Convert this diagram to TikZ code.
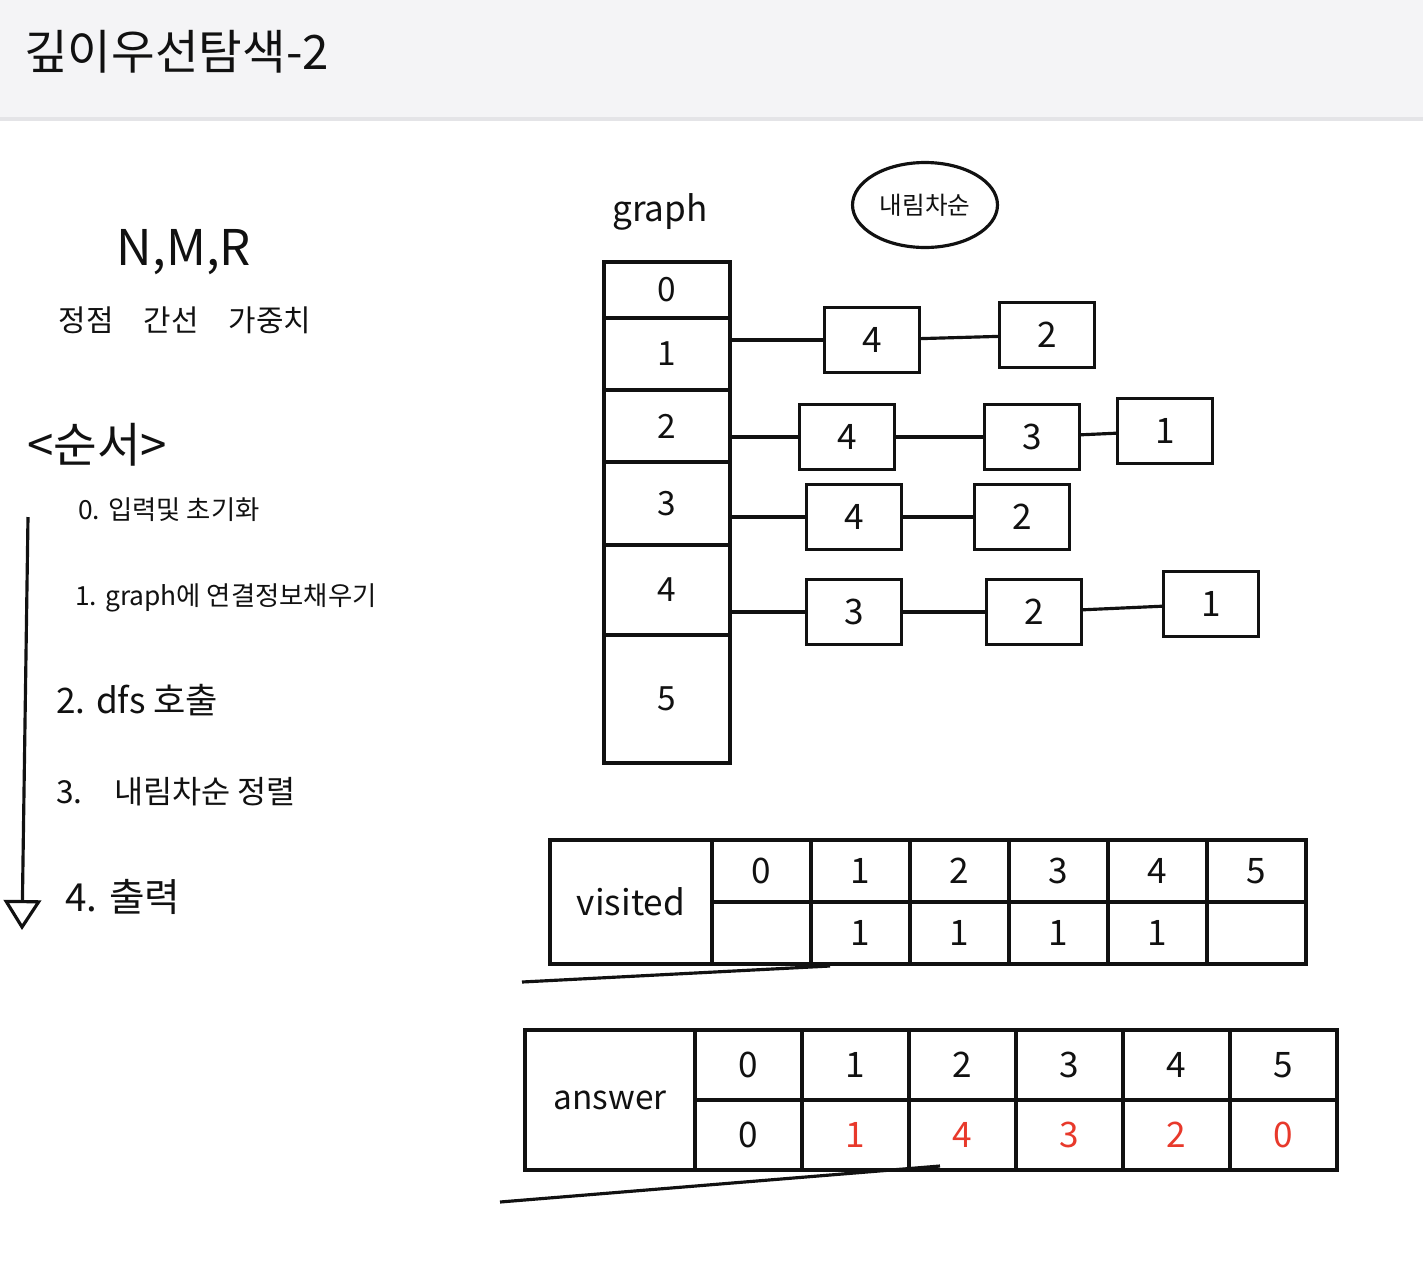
\documentclass[tikz,border=0pt]{standalone}
\usepackage{fontspec}
\setmainfont{Noto Sans CJK KR}
\usetikzlibrary{positioning, arrows.meta, shapes.geometric}
\definecolor{bar}{HTML}{F4F4F6}
\definecolor{barline}{HTML}{E4E4E7}
\definecolor{ink}{HTML}{111111}
\definecolor{redpen}{HTML}{E8392B}

\begin{document}
\begin{tikzpicture}[x=0.02cm, y=-0.02cm, line width=1.8pt, ink,
    every node/.style={text=ink, inner sep=1pt},
    gcell/.style={draw, outer sep=0pt, minimum width=2.52cm, font=\fontsize{19}{22}\selectfont},
    lbox/.style={draw, minimum width=1.9cm, minimum height=1.3cm, font=\fontsize{20}{24}\selectfont},
    vcell/.style={draw, outer sep=0pt, minimum width=1.98cm, minimum height=1.24cm, font=\fontsize{20}{24}\selectfont},
    acell/.style={draw, outer sep=0pt, minimum width=2.14cm, minimum height=1.4cm, font=\fontsize{20}{24}\selectfont},
    stepitem/.style={anchor=west, font=\fontsize{18}{22}\selectfont}]
    % 배경과 제목
    \useasboundingbox (0,0) rectangle (1423,1282);
    \fill[white] (0,0) rectangle (1423,1282);
    \fill[bar] (0,0) rectangle (1423,120);
    \draw[barline, line width=2pt] (0,119) -- (1423,119);
    \node[anchor=west, font=\fontsize{27}{32}\selectfont] (title) at (21,52) {깊이우선탐색-2};

    % 왼쪽: 입력과 순서
    \node[font=\fontsize{28}{32}\selectfont] (nmr) at (184,252) {N,M,R};
    \node[font=\fontsize{17}{20}\selectfont] (names) at (185,320) {정점\quad 간선\quad 가중치};
    \node[anchor=west, font=\fontsize{27}{31}\selectfont] (order) at (24,445) {<순서>};
    \node[stepitem, font=\fontsize{15}{18}\selectfont] (s0) at (75,510) {0. 입력및 초기화};
    \node[stepitem, font=\fontsize{15}{18}\selectfont] (s1) at (72,598) {1. graph에 연결정보채우기};
    \node[stepitem, font=\fontsize{20}{24}\selectfont] (s2) at (53,700) {2. dfs 호출};
    \node[stepitem] (s3) at (53,792) {3.\quad 내림차순 정렬};
    \node[stepitem, font=\fontsize{22}{26}\selectfont] (s4) at (62,897) {4. 출력};
    \coordinate (top) at (28,517);
    \coordinate (bot) at (22,930);
    \draw[-{Triangle[open, length=0.6cm, width=0.75cm]}] (top) -- (bot);

    % graph 배열
    \node[font=\fontsize{20}{24}\selectfont] (glabel) at (660,212) {graph};
    \node[gcell, minimum height=1.12cm] (g0) at (667,290) {0};
    \node[gcell, minimum height=1.44cm, below=0pt of g0] (g1) {1};
    \node[gcell, minimum height=1.44cm, below=0pt of g1] (g2) {2};
    \node[gcell, minimum height=1.66cm, below=0pt of g2] (g3) {3};
    \node[gcell, minimum height=1.8cm, below=0pt of g3] (g4) {4};
    \node[gcell, minimum height=2.56cm, below=0pt of g4] (g5) {5};
    \node[draw, ellipse, inner sep=0pt, minimum width=2.9cm, minimum height=1.7cm,
          font=\fontsize{14}{17}\selectfont] (desc) at (925,205) {내림차순};

    % 연결 리스트
    \node[lbox] (1a) at (872,340) {4};
    \node[lbox] (1b) at (1047,335) {2};
    \node[lbox] (2a) at (847,437) {4};
    \node[lbox] (2b) at (1032,437) {3};
    \node[lbox] (2c) at (1165,431) {1};
    \node[lbox] (3a) at (854,517) {4};
    \node[lbox] (3b) at (1022,517) {2};
    \node[lbox] (4a) at (854,612) {3};
    \node[lbox] (4b) at (1034,612) {2};
    \node[lbox] (4c) at (1211,604) {1};
    \draw (g1.east |- 1a) -- (1a);
    \draw (1a) -- (1b);
    \draw (g2.east |- 2a) -- (2a);
    \draw (2a) -- (2b);
    \draw (2b) -- (2c);
    \draw (g3.east |- 3a) -- (3a);
    \draw (3a) -- (3b);
    \draw (g4.east |- 4a) -- (4a);
    \draw (4a) -- (4b);
    \draw (4b) -- (4c);

    % visited
    \node[draw, outer sep=0pt, minimum width=3.24cm, minimum height=2.48cm,
          font=\fontsize{20}{24}\selectfont] (vis) at (631,902) {visited};
    \foreach \i/\v in {0/{},1/1,2/1,3/1,4/1,5/{}} {
        \node[vcell] (vh\i) at (761.5+99*\i,871) {\i};
        \node[vcell] (vv\i) at (761.5+99*\i,933) {\v};
    }
    \draw (522,982) -- (830,966);

    % answer
    \node[draw, outer sep=0pt, minimum width=3.4cm, minimum height=2.8cm,
          font=\fontsize{19}{22}\selectfont] (ans) at (610,1100) {answer};
    \foreach \i/\v/\c in {0/0/ink,1/1/redpen,2/4/redpen,3/3/redpen,4/2/redpen,5/0/redpen} {
        \node[acell] (ah\i) at (748.5+107*\i,1065) {\i};
        \node[acell, text=\c] (av\i) at (748.5+107*\i,1135) {\v};
    }
    \draw (500,1202) -- (940,1166);
\end{tikzpicture}
\end{document}
